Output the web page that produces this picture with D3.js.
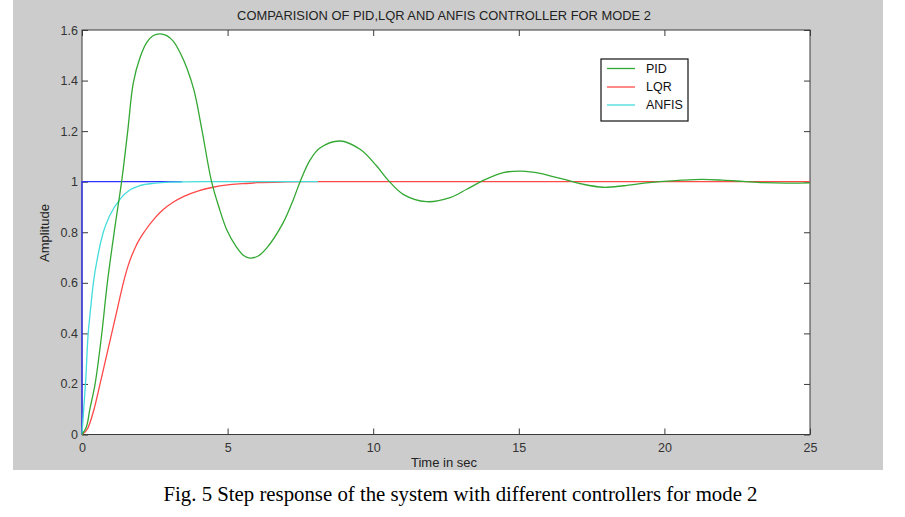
<!DOCTYPE html>
<html>
<head>
<meta charset="utf-8">
<script src="https://cdn.jsdelivr.net/npm/d3@7"></script>
<style>
  html, body { margin: 0; padding: 0; background: #ffffff; }
  svg { display: block; }
</style>
</head>
<body>
<svg id="chart" width="905" height="517"></svg>
<script>
// ---------- data ----------
const xTickValues = [0, 5, 10, 15, 20, 25];
const xTickLabels = ["0", "5", "10", "15", "20", "25"];
const yTickValues = [0, 0.2, 0.4, 0.6, 0.8, 1, 1.2, 1.4, 1.6];
const yTickLabels = ["0", "0.2", "0.4", "0.6", "0.8", "1", "1.2", "1.4", "1.6"];

const seriesNames = ["PID", "LQR", "ANFIS"];

const stepTime = [0, 0, 3.43];
const stepAmp  = [0, 1, 1];

const pidTime = [0, 0.15, 0.27, 0.45, 0.68, 0.87, 1.13, 1.36, 1.57, 1.76, 1.99, 2.22, 2.45, 2.68,
  2.91, 3.14, 3.37, 3.6, 3.85, 4.11, 4.45, 4.7, 4.97, 5.3, 5.55, 5.77, 6.05, 6.34, 6.91, 7.26, 7.49, 7.83, 8.17, 8.86,
  9.55, 10.12, 10.52, 11.03, 11.84, 12.64, 13.21, 13.78, 14.47, 15.1, 15.73, 16.07, 16.6, 17.2, 17.9,
  18.6, 19.3, 19.85, 20.6, 21.3, 22.0, 22.7, 23.4, 24.2, 25];
const pidAmp = [0, 0.03, 0.1, 0.2, 0.4, 0.6, 0.82, 1.0, 1.2, 1.39, 1.49, 1.55, 1.578, 1.585,
  1.578, 1.555, 1.51, 1.45, 1.36, 1.21, 1.0, 0.9, 0.81, 0.742, 0.708, 0.698, 0.706, 0.737, 0.838, 0.93, 1.0, 1.085, 1.133, 1.161,
  1.128, 1.062, 1.005, 0.95, 0.921, 0.937, 0.97, 1.005, 1.036, 1.042, 1.033, 1.023, 1.008, 0.99, 0.978,
  0.984, 0.994, 1.0, 1.006, 1.009, 1.006, 1.001, 0.996, 0.994, 0.995];

const lqrTime = [0, 0.2, 0.39, 0.62, 0.82, 1.02, 1.22, 1.42, 1.59, 1.85, 2.16, 2.5, 2.79, 3.1, 3.5,
  4.0, 4.5, 5.0, 5.5, 6.0, 7.0, 8.0, 10, 15, 20, 25];
const lqrAmp = [0, 0.025, 0.09, 0.2, 0.3, 0.4, 0.5, 0.6, 0.67, 0.745, 0.805, 0.856, 0.89, 0.917, 0.942,
  0.964, 0.978, 0.987, 0.992, 0.996, 0.999, 1.0, 1.0, 1.0, 1.0, 1.0];

const anfisTime = [0, 0.03, 0.07, 0.13, 0.2, 0.28, 0.39, 0.55, 0.73, 0.95, 1.3, 1.65, 2.0, 2.5, 3.0,
  3.5, 4.5, 6.0, 8.1];
const anfisAmp = [0, 0.05, 0.12, 0.22, 0.38, 0.48, 0.6, 0.71, 0.8, 0.865, 0.93, 0.968, 0.985, 0.994,
  0.998, 0.999, 1.0, 1.0, 1.0];

// ---------- layout ----------
const W = 905, H = 517;
const panel = { x: 13, y: 0, w: 870, h: 470 };
const plot = { left: 82, right: 810, top: 30, bottom: 434.5 };

const svg = d3.select("#chart");

svg.append("rect").attr("x", 0).attr("y", 0).attr("width", W).attr("height", H).attr("fill", "#ffffff");
svg.append("rect").attr("x", panel.x).attr("y", panel.y).attr("width", panel.w).attr("height", panel.h)
  .attr("fill", "#cccccc");

const x = d3.scaleLinear().domain([0, 25]).range([plot.left, plot.right]);
const y = d3.scaleLinear().domain([0, 1.6]).range([plot.bottom, plot.top]);

svg.append("rect").attr("x", plot.left).attr("y", plot.top)
  .attr("width", plot.right - plot.left).attr("height", plot.bottom - plot.top)
  .attr("fill", "#ffffff");

const axisColor = "#3a3a3a";
const tickFont = "Liberation Sans, Arial, sans-serif";

function styleAxis(g, showLabels) {
  g.select(".domain").remove();
  g.selectAll(".tick line").attr("stroke", axisColor).attr("stroke-width", 1);
  g.selectAll(".tick text").attr("fill", "#333333").style("font-family", tickFont).style("font-size", "12.5px");
  if (!showLabels) g.selectAll(".tick text").remove();
}

svg.append("g").attr("transform", `translate(0,${plot.bottom})`)
  .call(d3.axisBottom(x).tickValues(xTickValues).tickFormat((d, i) => xTickLabels[i])
    .tickSizeInner(-6).tickSizeOuter(0).tickPadding(9))
  .call(g => styleAxis(g, true));
svg.append("g").attr("transform", `translate(0,${plot.top})`)
  .call(d3.axisTop(x).tickValues(xTickValues).tickSizeInner(-6).tickSizeOuter(0))
  .call(g => styleAxis(g, false));
svg.append("g").attr("transform", `translate(${plot.left},0)`)
  .call(d3.axisLeft(y).tickValues(yTickValues).tickFormat((d, i) => yTickLabels[i])
    .tickSizeInner(-6).tickSizeOuter(0).tickPadding(4))
  .call(g => styleAxis(g, true));
svg.append("g").attr("transform", `translate(${plot.right},0)`)
  .call(d3.axisRight(y).tickValues(yTickValues).tickSizeInner(-6).tickSizeOuter(0))
  .call(g => styleAxis(g, false));

// frame (drawn before the lines so the step line shows over the left edge)
svg.append("rect").attr("x", plot.left).attr("y", plot.top)
  .attr("width", plot.right - plot.left).attr("height", plot.bottom - plot.top)
  .attr("fill", "none").attr("stroke", axisColor).attr("stroke-width", 1);

// ---------- lines ----------
function pts(ts, vs) { return ts.map((t, i) => [t, vs[i]]); }

const linearLine = d3.line().x(d => x(d[0])).y(d => y(d[1])).curve(d3.curveLinear);
const smoothLine = d3.line().x(d => x(d[0])).y(d => y(d[1])).curve(d3.curveMonotoneX);
const pidLine = d3.line().x(d => x(d[0])).y(d => y(d[1])).curve(d3.curveCatmullRom.alpha(0.5));

const colors = { step: "#3030ff", PID: "#33a833", LQR: "#ff4848", ANFIS: "#45dcdc" };

svg.append("path").attr("d", linearLine(pts(stepTime, stepAmp)))
  .attr("fill", "none").attr("stroke", colors.step).attr("stroke-width", 1.3);
svg.append("path").attr("d", smoothLine(pts(lqrTime, lqrAmp)))
  .attr("fill", "none").attr("stroke", colors.LQR).attr("stroke-width", 1.3);
svg.append("path").attr("d", smoothLine(pts(anfisTime, anfisAmp)))
  .attr("fill", "none").attr("stroke", colors.ANFIS).attr("stroke-width", 1.3);
svg.append("path").attr("d", pidLine(pts(pidTime, pidAmp)))
  .attr("fill", "none").attr("stroke", colors.PID).attr("stroke-width", 1.3);

// ---------- legend ----------
const legend = svg.append("g");
legend.append("rect").attr("x", 601).attr("y", 59).attr("width", 87).attr("height", 62)
  .attr("fill", "#ffffff").attr("stroke", "#111111").attr("stroke-width", 1.2);
const legendY = [68.5, 87, 105];
seriesNames.forEach((name, i) => {
  legend.append("line").attr("x1", 607).attr("x2", 635).attr("y1", legendY[i]).attr("y2", legendY[i])
    .attr("stroke", colors[name]).attr("stroke-width", 1.3);
  legend.append("text").attr("x", 646).attr("y", legendY[i]).attr("dy", "0.35em")
    .style("font-family", tickFont).style("font-size", "12.5px").attr("fill", "#111111").text(name);
});

// ---------- titles ----------
svg.append("text").attr("x", 444).attr("y", 20).attr("text-anchor", "middle")
  .style("font-family", tickFont).style("font-size", "12.9px").attr("fill", "#222222")
  .text("COMPARISION OF PID,LQR AND ANFIS CONTROLLER FOR MODE 2");

svg.append("text").attr("x", 444).attr("y", 467).attr("text-anchor", "middle")
  .style("font-family", tickFont).style("font-size", "13px").attr("fill", "#222222")
  .text("Time in sec");

svg.append("text").attr("transform", "translate(49,233) rotate(-90)").attr("text-anchor", "middle")
  .style("font-family", tickFont).style("font-size", "13px").attr("fill", "#222222")
  .text("Amplitude");

svg.append("text").attr("x", 460.5).attr("y", 501).attr("text-anchor", "middle")
  .style("font-family", "Liberation Serif, 'Times New Roman', serif").style("font-size", "20.8px")
  .attr("fill", "#000000")
  .text("Fig. 5 Step response of the system with different controllers for mode 2");
</script>
</body>
</html>
